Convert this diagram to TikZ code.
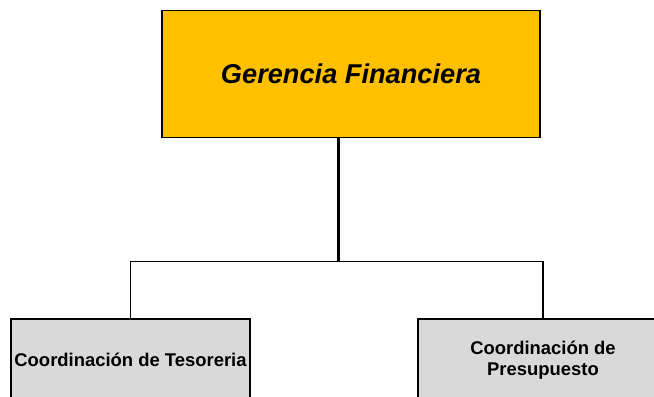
\documentclass[tikz,border=0pt]{standalone}
\usepackage{fontspec}
\setmainfont{Liberation Sans}
\usetikzlibrary{positioning, calc}
\definecolor{cgold}{HTML}{FFC000}
\definecolor{cgrey}{HTML}{D9D9D9}
\tikzset{
  every picture/.style={line width=1.2bp},
  head/.style={draw=black, fill=cgold, align=center, minimum width=378bp, minimum height=127bp,
    font=\fontsize{27.3}{32}\selectfont\bfseries\itshape},
  unit/.style={draw=black, fill=cgrey, align=center, minimum height=82bp,
    font=\fontsize{18.5}{21.5}\selectfont\bfseries},
  link/.style={draw=black, line width=1.2bp},
  trunk/.style={draw=black, line width=3bp},
}
\begin{document}
\begin{tikzpicture}[x=1bp, y=-1bp]
  \useasboundingbox (0,0) rectangle (654,396);
  \clip (0,0) rectangle (654,396);
  \node[head] (ger) at (351, 74) {Gerencia Financiera};
  \node[unit, minimum width=239bp] (tes) at (130.5, 360) {Coordinación de Tesoreria};
  \node[unit, minimum width=250bp] (pre) at (543, 360) {Coordinación de\\Presupuesto};
  % connectors
  \coordinate (bar) at ($(tes.north)!0.5!(pre.north)+(1.5,-57)$);
  \draw[trunk] (ger.south -| bar) -- (bar);
  \draw[link] (tes.north) |- (bar) -| (pre.north);
\end{tikzpicture}
\end{document}
